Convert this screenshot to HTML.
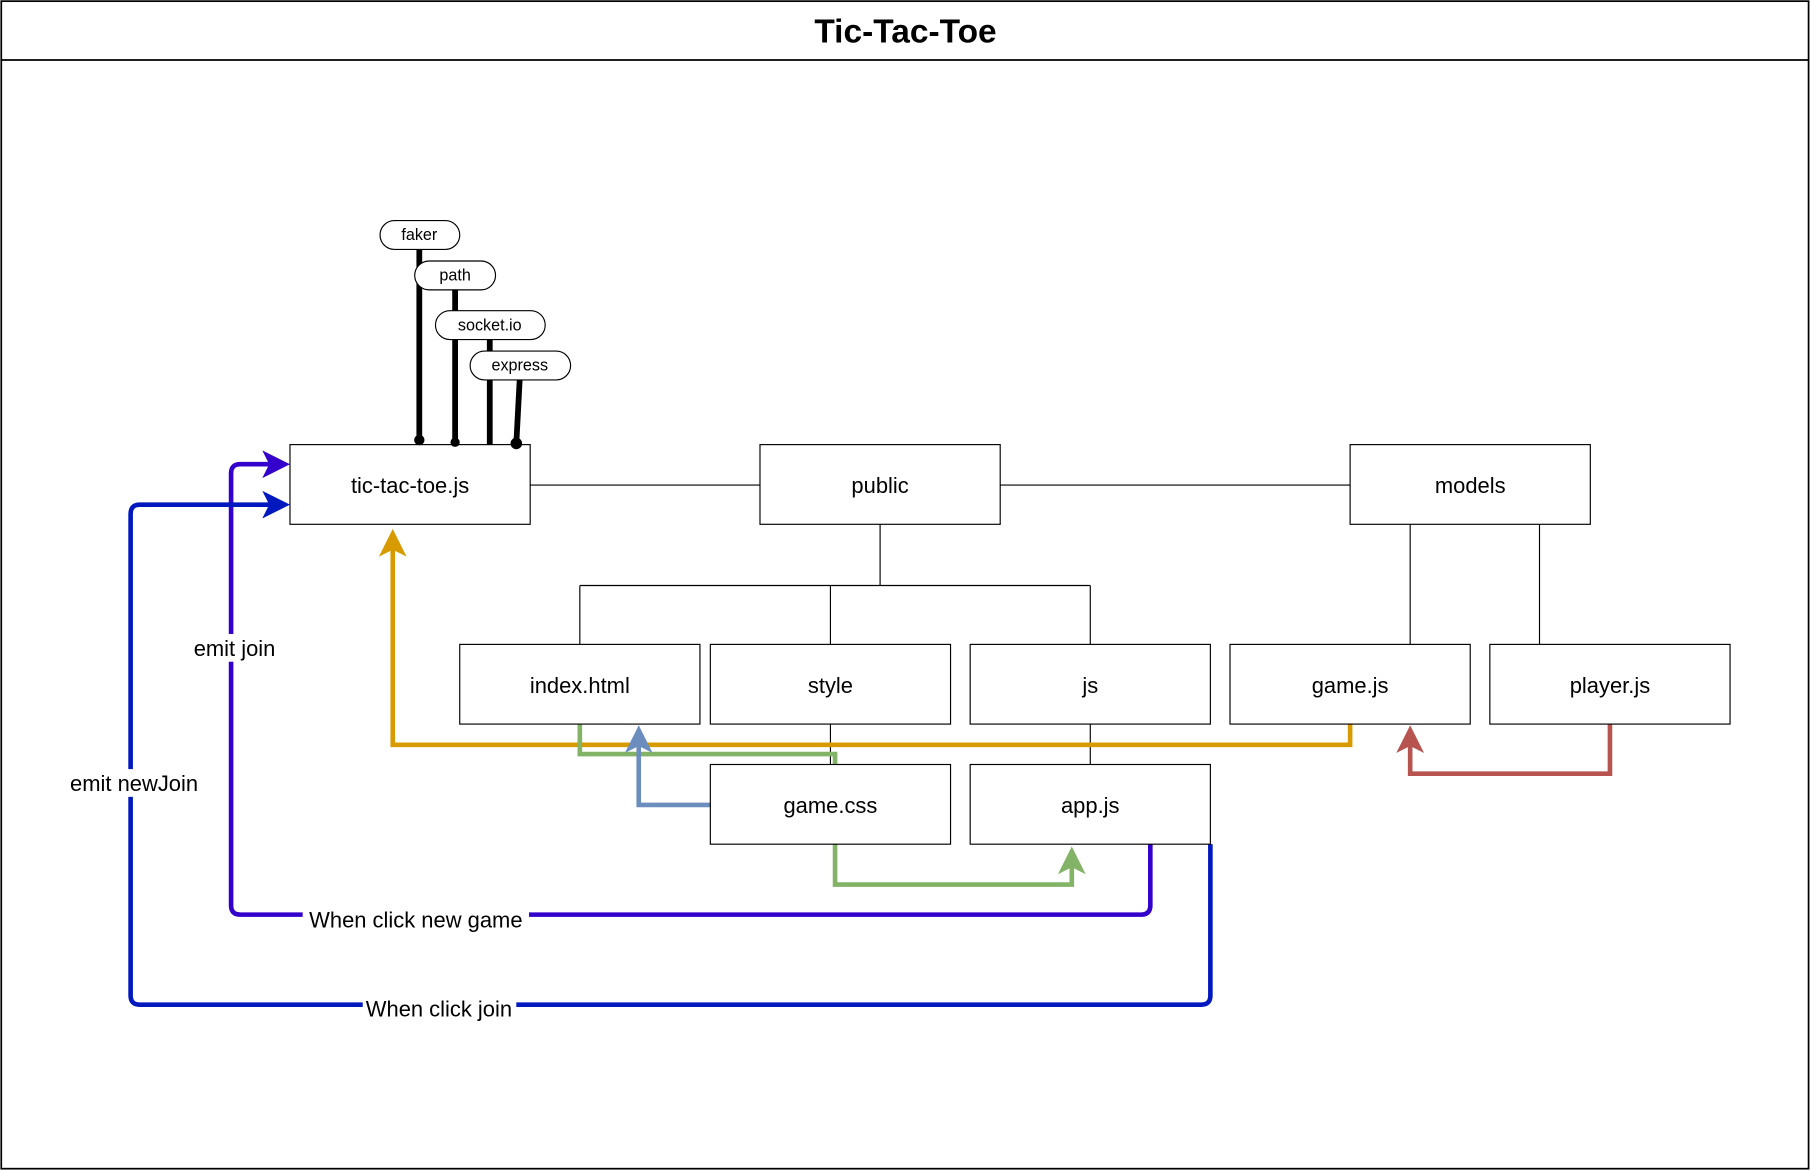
<!DOCTYPE html>
<html><head><meta charset="utf-8"><style>
html,body{margin:0;padding:0;background:#fff;}
svg{display:block;}
text{font-family:"Liberation Sans",Arial,sans-serif;}
</style></head><body>
<svg width="1811" height="1171" viewBox="0 0 1568 1014" xmlns="http://www.w3.org/2000/svg">
<defs>
<marker id="aOr" markerWidth="6" markerHeight="6" refX="5" refY="3" orient="auto" markerUnits="strokeWidth"><path d="M0,0 L6,3 L0,6 L1.5,3 z" fill="#d79b00"/></marker>
<marker id="aBl" markerWidth="6" markerHeight="6" refX="5" refY="3" orient="auto" markerUnits="strokeWidth"><path d="M0,0 L6,3 L0,6 L1.5,3 z" fill="#6c8ebf"/></marker>
<marker id="aGr" markerWidth="6" markerHeight="6" refX="5" refY="3" orient="auto" markerUnits="strokeWidth"><path d="M0,0 L6,3 L0,6 L1.5,3 z" fill="#82b366"/></marker>
<marker id="aRd" markerWidth="6" markerHeight="6" refX="5" refY="3" orient="auto" markerUnits="strokeWidth"><path d="M0,0 L6,3 L0,6 L1.5,3 z" fill="#b85450"/></marker>
<marker id="aPu" markerWidth="6" markerHeight="6" refX="5" refY="3" orient="auto" markerUnits="strokeWidth"><path d="M0,0 L6,3 L0,6 L1.5,3 z" fill="#3300cc"/></marker>
<marker id="aDb" markerWidth="6" markerHeight="6" refX="5" refY="3" orient="auto" markerUnits="strokeWidth"><path d="M0,0 L6,3 L0,6 L1.5,3 z" fill="#0019bf"/></marker>
</defs>
<rect x="1" y="1" width="1565" height="1011" fill="#fff" stroke="#000" stroke-width="1.5"/>
<line x1="1" y1="52" x2="1566" y2="52" stroke="#000" stroke-width="1.5"/>
<text x="784" y="37" text-anchor="middle" font-size="29" font-weight="bold">Tic-Tac-Toe</text>

<g stroke="#000" stroke-width="1" fill="none">
<line x1="459" y1="420" x2="658" y2="420"/>
<line x1="866" y1="420" x2="1169" y2="420"/>
<line x1="762" y1="454" x2="762" y2="507"/>
<line x1="502" y1="507" x2="944" y2="507"/>
<line x1="502" y1="507" x2="502" y2="558"/>
<line x1="719" y1="507" x2="719" y2="558"/>
<line x1="944" y1="507" x2="944" y2="558"/>
<line x1="1221" y1="454" x2="1221" y2="558"/>
<line x1="1333" y1="454" x2="1333" y2="558"/>
<line x1="719" y1="627" x2="719" y2="662"/>
<line x1="944" y1="627" x2="944" y2="662"/>
</g>

<g fill="none" stroke-width="4" stroke-linejoin="miter">
<path d="M1169,627 V645 H340 V462" stroke="#d79b00" marker-end="url(#aOr)"/>
<path d="M502,627 V653 H723 V662" stroke="#82b366"/>
<path d="M615,697 H553 V632" stroke="#6c8ebf" marker-end="url(#aBl)"/>
<path d="M723,731 V766 H928 V737" stroke="#82b366" marker-end="url(#aGr)"/>
<path d="M1394,627 V670 H1221 V632" stroke="#b85450" marker-end="url(#aRd)"/>
<path d="M996,731 V784 Q996,792 988,792 H208 Q200,792 200,784 V410 Q200,402 208,402 H247" stroke="#3300cc" marker-end="url(#aPu)"/>
<path d="M1048,731 V862 Q1048,870 1040,870 H121 Q113,870 113,862 V445 Q113,437 121,437 H247" stroke="#0019bf" marker-end="url(#aDb)"/>
</g>

<g fill="#fff" stroke="#000" stroke-width="1">
<rect x="251" y="385" width="208" height="69"/>
<rect x="658" y="385" width="208" height="69"/>
<rect x="1169" y="385" width="208" height="69"/>
<rect x="398" y="558" width="208" height="69"/>
<rect x="615" y="558" width="208" height="69"/>
<rect x="840" y="558" width="208" height="69"/>
<rect x="1065" y="558" width="208" height="69"/>
<rect x="1290" y="558" width="208" height="69"/>
<rect x="615" y="662" width="208" height="69"/>
<rect x="840" y="662" width="208" height="69"/>
</g>
<g font-size="19" text-anchor="middle" fill="#000">
<text x="355" y="427">tic-tac-toe.js</text>
<text x="762" y="427">public</text>
<text x="1273" y="427">models</text>
<text x="502" y="600">index.html</text>
<text x="719" y="600">style</text>
<text x="944" y="600">js</text>
<text x="1169" y="600">game.js</text>
<text x="1394" y="600">player.js</text>
<text x="719" y="704">game.css</text>
<text x="944" y="704">app.js</text>
</g>

<g stroke="#000" stroke-width="5" fill="none">
<line x1="363" y1="214" x2="363" y2="381"/>
<line x1="394" y1="249" x2="394" y2="382"/>
<line x1="424" y1="292" x2="424" y2="385"/>
<line x1="450" y1="327" x2="447" y2="384"/>
</g>
<g fill="#000">
<circle cx="363" cy="381" r="4.5"/>
<circle cx="394" cy="383" r="4"/>
<circle cx="447" cy="384" r="5"/>
</g>
<g fill="#fff" stroke="#000" stroke-width="1">
<rect x="329" y="191" width="69" height="25" rx="12.5"/>
<rect x="359" y="226" width="70" height="25" rx="12.5"/>
<rect x="377" y="269" width="95" height="25" rx="12.5"/>
<rect x="407" y="304" width="87" height="25" rx="12.5"/>
</g>
<g font-size="14" text-anchor="middle" fill="#000">
<text x="363" y="208">faker</text>
<text x="394" y="243">path</text>
<text x="424" y="286">socket.io</text>
<text x="450" y="321">express</text>
</g>

<g font-size="19" text-anchor="middle" fill="#000">
<rect x="262" y="784" width="196" height="24" fill="#fff"/>
<text x="360" y="803">When click new game</text>
<rect x="314" y="861" width="133" height="24" fill="#fff"/>
<text x="380" y="880">When click join</text>
<rect x="164" y="549" width="78" height="24" fill="#fff"/>
<text x="203" y="568">emit join</text>
<rect x="58" y="666" width="116" height="24" fill="#fff"/>
<text x="116" y="685">emit newJoin</text>
</g>
</svg>
</body></html>
